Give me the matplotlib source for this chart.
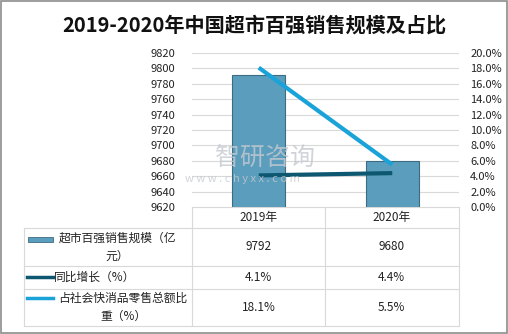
import matplotlib
matplotlib.use('Agg')
import matplotlib.pyplot as plt
from matplotlib.patches import Rectangle
from matplotlib.lines import Line2D

plt.rcParams['font.family'] = ['Noto Sans CJK SC', 'DejaVu Sans']

years = ['2019年', '2020年']
sales = [9792, 9680]
growth = [4.1, 4.4]
share = [18.1, 5.5]
row_labels = ['超市百强销售规模（亿\n元）', '同比增长（%）', '占社会快消品零售总额比\n重（%）']
row_values = [['9792', '9680'], ['4.1%', '4.4%'], ['18.1%', '5.5%']]

bar_color = '#5b9dbd'
dark_line = '#0d5870'
light_line = '#1aa3d9'
grid_color = '#d9d9d9'

W, H = 508, 334
fig = plt.figure(figsize=(W / 100, H / 100), dpi=100)

# frame + table layer (pixel coordinates)
bg = fig.add_axes([0, 0, 1, 1])
bg.set_xlim(0, W)
bg.set_ylim(H, 0)
bg.axis('off')
bg.add_patch(Rectangle((0.5, 0.5), W - 1.5, H - 1.5, fill=False, ec='#8c8c8c', lw=1.2))

fig.text(0.5, 1 - 25 / H, '2019-2020年中国超市百强销售规模及占比', ha='center', va='center',
         fontsize=14.5, fontweight='semibold', color='#111111')

# main chart
left, right, top, bot = 192, 459, 53, 207
ax = fig.add_axes([left / W, 1 - bot / H, (right - left) / W, (bot - top) / H])
x = [0, 1]
ax.bar(x, sales, width=0.4, color=bar_color, edgecolor='#3b6c82', lw=0.8, zorder=3)
ax.set_xlim(-0.5, 1.5)
ax.set_ylim(9620, 9820)
ax.set_yticks(range(9620, 9821, 20))
ax.grid(axis='y', color=grid_color, lw=0.8, zorder=0)
ax.set_xticks([])
for s in ax.spines.values():
    s.set_visible(False)
ax.tick_params(axis='y', length=0, labelsize=8, pad=12, colors='#222222')

ax2 = ax.twinx()
ax2.plot(x, growth, color=dark_line, lw=3, solid_capstyle='butt', zorder=4)
ax2.plot(x, share, color=light_line, lw=3, solid_capstyle='butt', zorder=4)
ax2.set_ylim(0, 20)
ax2.set_yticks(range(0, 21, 2))
ax2.set_yticklabels([f'{v:.1f}%' for v in range(0, 21, 2)])
for s in ax2.spines.values():
    s.set_visible(False)
ax2.tick_params(axis='y', length=0, labelsize=8, pad=8, colors='#222222')

# watermark
fig.text(215 / W, 1 - 158 / H, '智研咨询', fontsize=18, color='#c5c9d0', alpha=0.8, va='center')
fig.text(185 / W, 1 - 179 / H, 'w w w . c h y x x . c o m', fontsize=8, color='#c5c9d0', alpha=0.8, va='center')

# table
c0, c1, c2, c3 = 24, 192, 325, 459
rows = [207, 228, 266, 289, 326]
bg.plot([c1, c3], [rows[0], rows[0]], color=grid_color, lw=0.8)
for r in rows[1:]:
    bg.plot([c0, c3], [r, r], color=grid_color, lw=0.8)
bg.plot([c0, c0], [rows[1], rows[4]], color=grid_color, lw=0.8)
for c in (c1, c2, c3):
    bg.plot([c, c], [rows[0], rows[4]], color=grid_color, lw=0.8)

fs = 8.5
for j, yr in enumerate(years):
    bg.text((c1 + c2) / 2 + j * (c2 - c1), (rows[0] + rows[1]) / 2, yr,
            ha='center', va='center', fontsize=fs, color='#222222')

for i, lab in enumerate(row_labels):
    yc = (rows[i + 1] + rows[i + 2]) / 2
    if i == 0:
        bg.add_patch(Rectangle((28, yc - 10), 25, 5, fc=bar_color, ec='#3b6c82', lw=0.6))
        bg.text(117, yc, lab, ha='center', va='center', fontsize=fs, color='#222222',
                linespacing=1.5)
    else:
        col = dark_line if i == 1 else light_line
        ky = yc - 1 if i == 1 else yc - 10
        bg.add_line(Line2D([27, 53], [ky, ky], color=col, lw=2.5))
        if i == 1:
            bg.text(54, yc, lab, ha='left', va='center', fontsize=fs, color='#222222')
        else:
            bg.text(123, yc, lab, ha='center', va='center', fontsize=fs, color='#222222',
                    linespacing=1.5)
    for j, v in enumerate(row_values[i]):
        bg.text((c1 + c2) / 2 + j * (c2 - c1), yc, v, ha='center', va='center',
                fontsize=fs, color='#222222')

fig.savefig('out.png', dpi=100)
